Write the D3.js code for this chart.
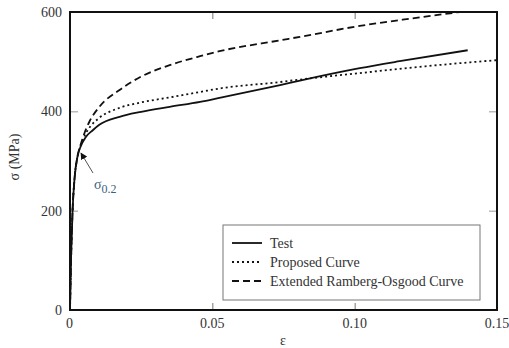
<!DOCTYPE html>
<html>
<head>
<meta charset="utf-8">
<script src="https://cdn.jsdelivr.net/npm/d3@7"></script>
<style>
  body { margin: 0; background: #fff; }
  text { font-family: "Liberation Serif", "Times New Roman", serif; fill: #333; }
</style>
</head>
<body>
<section></section>
<script>
// strain / stress readings (epsilon, MPa)
var testStrain = [0, 0.0004, 0.0009, 0.0016, 0.0026, 0.0038, 0.0055, 0.008, 0.0103, 0.0174, 0.025, 0.035, 0.0457, 0.0525, 0.0738, 0.0808, 0.1018, 0.1158, 0.1397];
var testStress = [0, 110, 200, 265, 308, 330, 348, 362, 373, 389, 399, 409, 419, 427, 453, 462, 487, 501, 523];

var propStrain = [0, 0.0004, 0.0009, 0.0016, 0.0026, 0.0038, 0.0055, 0.0075, 0.0103, 0.0174, 0.025, 0.035, 0.0457, 0.0525, 0.0738, 0.0808, 0.1018, 0.12, 0.135, 0.15];
var propStress = [0, 110, 200, 265, 308, 332, 355, 372, 387, 407, 418, 428, 439, 446, 459, 464, 477, 488, 496, 503];

var roStrain = [0, 0.0004, 0.0009, 0.0016, 0.0026, 0.0038, 0.0052, 0.0068, 0.0103, 0.0174, 0.025, 0.035, 0.0457, 0.0525, 0.0738, 0.0808, 0.1018, 0.12, 0.137];
var roStress = [0, 110, 200, 265, 308, 334, 358, 379, 409, 443, 470, 493, 511, 521, 543, 550, 572, 587, 600];

var xTicks = [0, 0.05, 0.10, 0.15];
var xTickLabels = ["0", "0.05", "0.10", "0.15"];
var yTicks = [0, 200, 400, 600];
var seriesNames = ["Test", "Proposed Curve", "Extended Ramberg-Osgood Curve"];

var margin = {top: 12, right: 12, bottom: 38, left: 70},
  width = 509 - margin.left - margin.right,
  height = 348 - margin.top - margin.bottom;

var svg = d3.select("section").append("svg")
    .attr("width", 509)
    .attr("height", 348),
  g = svg.append("g")
    .attr("transform", "translate(" + margin.left + "," + margin.top + ")");

var x = d3.scaleLinear().domain([0, 0.15]).range([0, 427]);
var y = d3.scaleLinear().domain([0, 600]).range([298, 0]);

// inward ticks on all four sides
g.append("g").attr("transform", "translate(0,298)")
  .call(d3.axisTop(x).tickValues([0.05, 0.10]).tickSize(7).tickFormat(""))
  .call(function(a) { a.select(".domain").remove(); a.selectAll("line").attr("stroke", "#777"); });
g.append("g")
  .call(d3.axisBottom(x).tickValues([0.05, 0.10]).tickSize(7).tickFormat(""))
  .call(function(a) { a.select(".domain").remove(); a.selectAll("line").attr("stroke", "#777"); });
g.append("g")
  .call(d3.axisRight(y).tickValues([200, 400]).tickSize(8).tickFormat(""))
  .call(function(a) { a.select(".domain").remove(); a.selectAll("line").attr("stroke", "#999"); });
g.append("g").attr("transform", "translate(427,0)")
  .call(d3.axisLeft(y).tickValues([200, 400]).tickSize(8).tickFormat(""))
  .call(function(a) { a.select(".domain").remove(); a.selectAll("line").attr("stroke", "#999"); });

// tick labels
g.selectAll(".xlab").data(xTicks).enter().append("text")
  .attr("x", function(d) { return x(d); })
  .attr("y", 316)
  .attr("text-anchor", function(d, i) { return i == 0 ? "start" : "middle"; })
  .attr("dx", function(d, i) { return i == 0 ? -4 : 0; })
  .style("font-size", "14px")
  .text(function(d, i) { return xTickLabels[i]; });

g.selectAll(".ylab").data(yTicks).enter().append("text")
  .attr("x", -8)
  .attr("y", function(d) { return y(d); })
  .attr("dy", "0.35em")
  .attr("text-anchor", "end")
  .style("font-size", "14px")
  .text(function(d) { return d; });

g.append("text")
  .attr("x", 213).attr("y", 333)
  .attr("text-anchor", "middle")
  .style("font-size", "14px")
  .text("ε");

g.append("text")
  .attr("transform", "translate(-51,145) rotate(-90)")
  .attr("text-anchor", "middle")
  .style("font-size", "14px")
  .text("σ (MPa)");

// curves
var line = d3.line()
  .x(function(d) { return x(d[0]); })
  .y(function(d) { return y(d[1]); })
  .curve(d3.curveMonotoneX);

var series = [
  {xs: testStrain, ys: testStress, dash: null},
  {xs: propStrain, ys: propStress, dash: "2,3"},
  {xs: roStrain, ys: roStress, dash: "7,4"}
];

g.append("clipPath").attr("id", "clip")
  .append("rect").attr("width", 427).attr("height", 298);

series.forEach(function(s) {
  g.append("path")
    .datum(d3.zip(s.xs, s.ys))
    .attr("clip-path", "url(#clip)")
    .attr("fill", "none")
    .attr("stroke", "#111")
    .attr("stroke-width", 1.8)
    .attr("stroke-dasharray", s.dash)
    .attr("d", line);
});

// frame
g.append("rect")
  .attr("width", 427).attr("height", 298)
  .attr("fill", "none")
  .attr("stroke", "#111")
  .attr("stroke-width", 2);

// sigma 0.2 annotation
svg.append("defs").append("marker")
  .attr("id", "arr").attr("viewBox", "0 0 10 10")
  .attr("refX", 9).attr("refY", 5)
  .attr("markerWidth", 7).attr("markerHeight", 7)
  .attr("orient", "auto")
  .append("path").attr("d", "M0,0L10,5L0,10z").attr("fill", "#111");

g.append("line")
  .attr("x1", 23).attr("y1", 161)
  .attr("x2", 11).attr("y2", 141)
  .attr("stroke", "#555").attr("stroke-width", 1)
  .attr("marker-end", "url(#arr)");

var sig = g.append("text")
  .attr("x", 24).attr("y", 177)
  .style("font-size", "14px")
  .style("fill", "#3d5f80");
sig.append("tspan").text("σ");
sig.append("tspan").attr("dy", 4).style("font-size", "12px").text("0.2");

// legend
var leg = g.append("g").attr("transform", "translate(153,213)");
leg.append("rect")
  .attr("width", 257).attr("height", 75)
  .attr("fill", "#fff")
  .attr("stroke", "#777")
  .attr("stroke-width", 1);

var legItems = leg.selectAll(".li").data(series).enter().append("g")
  .attr("transform", function(d, i) { return "translate(9," + (18 + i * 19) + ")"; });
legItems.append("line")
  .attr("x1", 0).attr("x2", 30)
  .attr("stroke", "#111").attr("stroke-width", 1.8)
  .attr("stroke-dasharray", function(d) { return d.dash; });
legItems.append("text")
  .attr("x", 38).attr("dy", "0.35em")
  .style("font-size", "14px")
  .text(function(d, i) { return seriesNames[i]; });
</script>
</body>
</html>
